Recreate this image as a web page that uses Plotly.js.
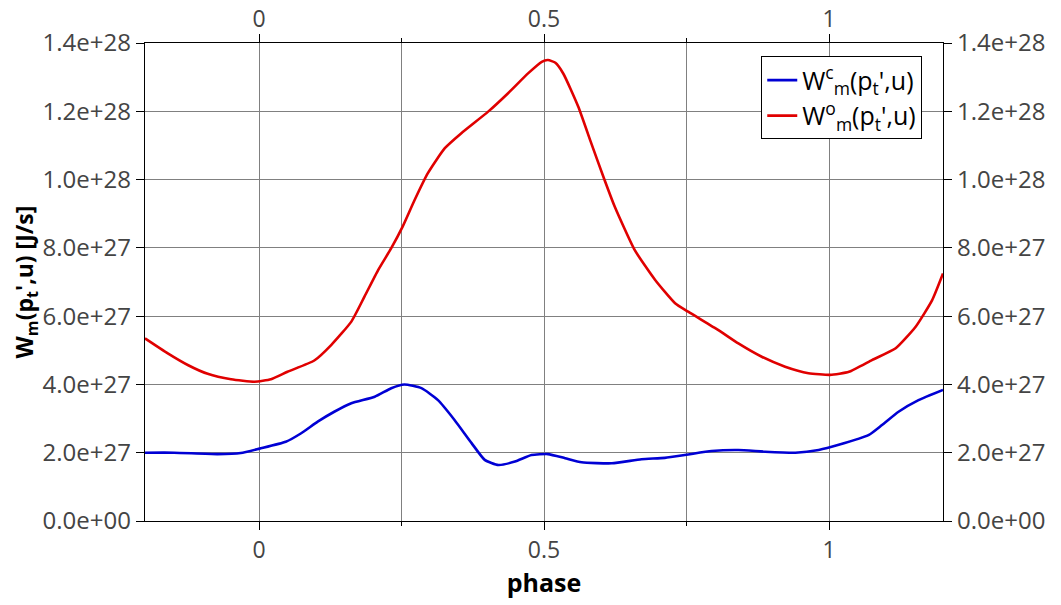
<!DOCTYPE html>
<html>
<head>
<meta charset="utf-8">
<script src="https://cdn.plot.ly/plotly-3.0.1.min.js"></script>
<style>
  html, body { margin: 0; padding: 0; background: #fff; }
  #chart { width: 1061px; height: 605px; }
</style>
</head>
<body>
<div id="chart"></div>
<script>
// phase samples and power values (units of 1e27 J/s)
const phaseC = [-0.2, -0.149, -0.073, -0.032, 0.001, 0.047, 0.074, 0.103, 0.132, 0.162,
  0.203, 0.232, 0.255, 0.285, 0.314, 0.343, 0.373, 0.396, 0.42, 0.449, 0.478,
  0.507, 0.537, 0.566, 0.619, 0.671, 0.712, 0.753, 0.794, 0.841, 0.888, 0.941,
  0.982, 1.017, 1.07, 1.093, 1.122, 1.157, 1.2];
const wC = [2.0, 2.0, 1.96, 1.99, 2.12, 2.32, 2.57, 2.91, 3.2, 3.45,
  3.64, 3.89, 4.0, 3.89, 3.54, 2.96, 2.28, 1.79, 1.64, 1.74, 1.93,
  1.96, 1.84, 1.72, 1.69, 1.81, 1.85, 1.95, 2.05, 2.08, 2.03, 2.0,
  2.08, 2.23, 2.52, 2.81, 3.2, 3.54, 3.84];

const phaseO = [-0.2, -0.16, -0.125, -0.09, -0.049, -0.008, 0.021, 0.05, 0.097, 0.127,
  0.162, 0.185, 0.209, 0.232, 0.252, 0.273, 0.296, 0.326, 0.355, 0.402,
  0.437, 0.472, 0.496, 0.507, 0.52, 0.534, 0.56, 0.583, 0.604, 0.624, 0.659,
  0.695, 0.73, 0.753, 0.806, 0.841, 0.882, 0.923, 0.964, 1.002, 1.035,
  1.076, 1.117, 1.152, 1.181, 1.2];
const wO = [5.35, 4.91, 4.57, 4.31, 4.15, 4.08, 4.15, 4.37, 4.7, 5.16,
  5.84, 6.57, 7.35, 7.99, 8.62, 9.4, 10.18, 10.92, 11.36, 11.99,
  12.53, 13.11, 13.45, 13.5, 13.42, 13.1, 12.14, 11.06, 10.09, 9.21, 7.94,
  7.06, 6.38, 6.13, 5.59, 5.2, 4.81, 4.52, 4.33, 4.28, 4.37,
  4.72, 5.06, 5.69, 6.47, 7.25];

const xTickVals = [0, 0.5, 1];
const xTickText = ['0', '0.5', '1'];
const yTickVals = [0, 2e27, 4e27, 6e27, 8e27, 1e28, 1.2e28, 1.4e28];
const yTickText = ['0.0e+00', '2.0e+27', '4.0e+27', '6.0e+27', '8.0e+27',
  '1.0e+28', '1.2e+28', '1.4e+28'];

const scale = 1e27;
const font = 'Open Sans, Noto Sans, sans-serif';

let traces = [
  {
    x: phaseC, y: wC.map(v => v * scale),
    name: "W<sup>c</sup><sub>m</sub>(p<sub>t</sub>',u)",
    mode: 'lines', line: { color: '#0000d4', width: 2.6, shape: 'spline', smoothing: 0.5 },
    xaxis: 'x', yaxis: 'y'
  },
  {
    x: phaseO, y: wO.map(v => v * scale),
    name: "W<sup>o</sup><sub>m</sub>(p<sub>t</sub>',u)",
    mode: 'lines', line: { color: '#e00000', width: 2.6, shape: 'spline', smoothing: 0.5 },
    xaxis: 'x2', yaxis: 'y2'
  }
];

let xBase = {
  range: [-0.2, 1.2],
  tickvals: xTickVals, ticktext: xTickText,
  ticks: 'outside', ticklen: 8, tickcolor: '#000', tickwidth: 1,
  minor: { dtick: 0.25, tick0: 0, ticks: 'outside', ticklen: 4, tickcolor: '#000', showgrid: false },
  showline: true, linecolor: '#000', linewidth: 1.2,
  zeroline: false,
  tickfont: { family: font, size: 23, color: '#444' }
};

let yBase = {
  range: [0, 1.4e28],
  tickvals: yTickVals, ticktext: yTickText,
  ticks: 'outside', ticklen: 8, tickcolor: '#000', tickwidth: 1,
  showline: true, linecolor: '#000', linewidth: 1.2,
  zeroline: false,
  tickfont: { family: font, size: 24, color: '#444' }
};

let layout = {
  width: 1061, height: 605,
  margin: { l: 145, r: 118, t: 43, b: 84 },
  paper_bgcolor: '#fff', plot_bgcolor: '#fff',
  showlegend: true,
  legend: {
    x: 0.974, y: 0.972, xanchor: 'right', yanchor: 'top',
    bgcolor: '#fff', bordercolor: '#000', borderwidth: 1,
    font: { family: font, size: 25, color: '#000' },
    tracegroupgap: 0
  },
  xaxis: Object.assign({}, xBase, {
    side: 'bottom',
    showgrid: true, gridcolor: '#808080', gridwidth: 1,
    minor: Object.assign({}, xBase.minor, { showgrid: true, gridcolor: '#808080', gridwidth: 1 }),
    title: { text: '<b>phase</b>', font: { family: font, size: 25, color: '#000' }, standoff: 4 }
  }),
  xaxis2: Object.assign({}, xBase, {
    side: 'top', overlaying: 'x', anchor: 'y', showgrid: false, ticklabelstandoff: -2
  }),
  yaxis: Object.assign({}, yBase, {
    side: 'left',
    showgrid: true, gridcolor: '#808080', gridwidth: 1,
    title: {
      text: "<b>W<sub>m</sub>(p<sub>t</sub>',u) [J/s]</b>",
      font: { family: font, size: 23, color: '#000' }, standoff: 2
    }
  }),
  yaxis2: Object.assign({}, yBase, {
    side: 'right', overlaying: 'y', anchor: 'x', showgrid: false
  })
};

Plotly.newPlot('chart', traces, layout, { staticPlot: true });
</script>
</body>
</html>
